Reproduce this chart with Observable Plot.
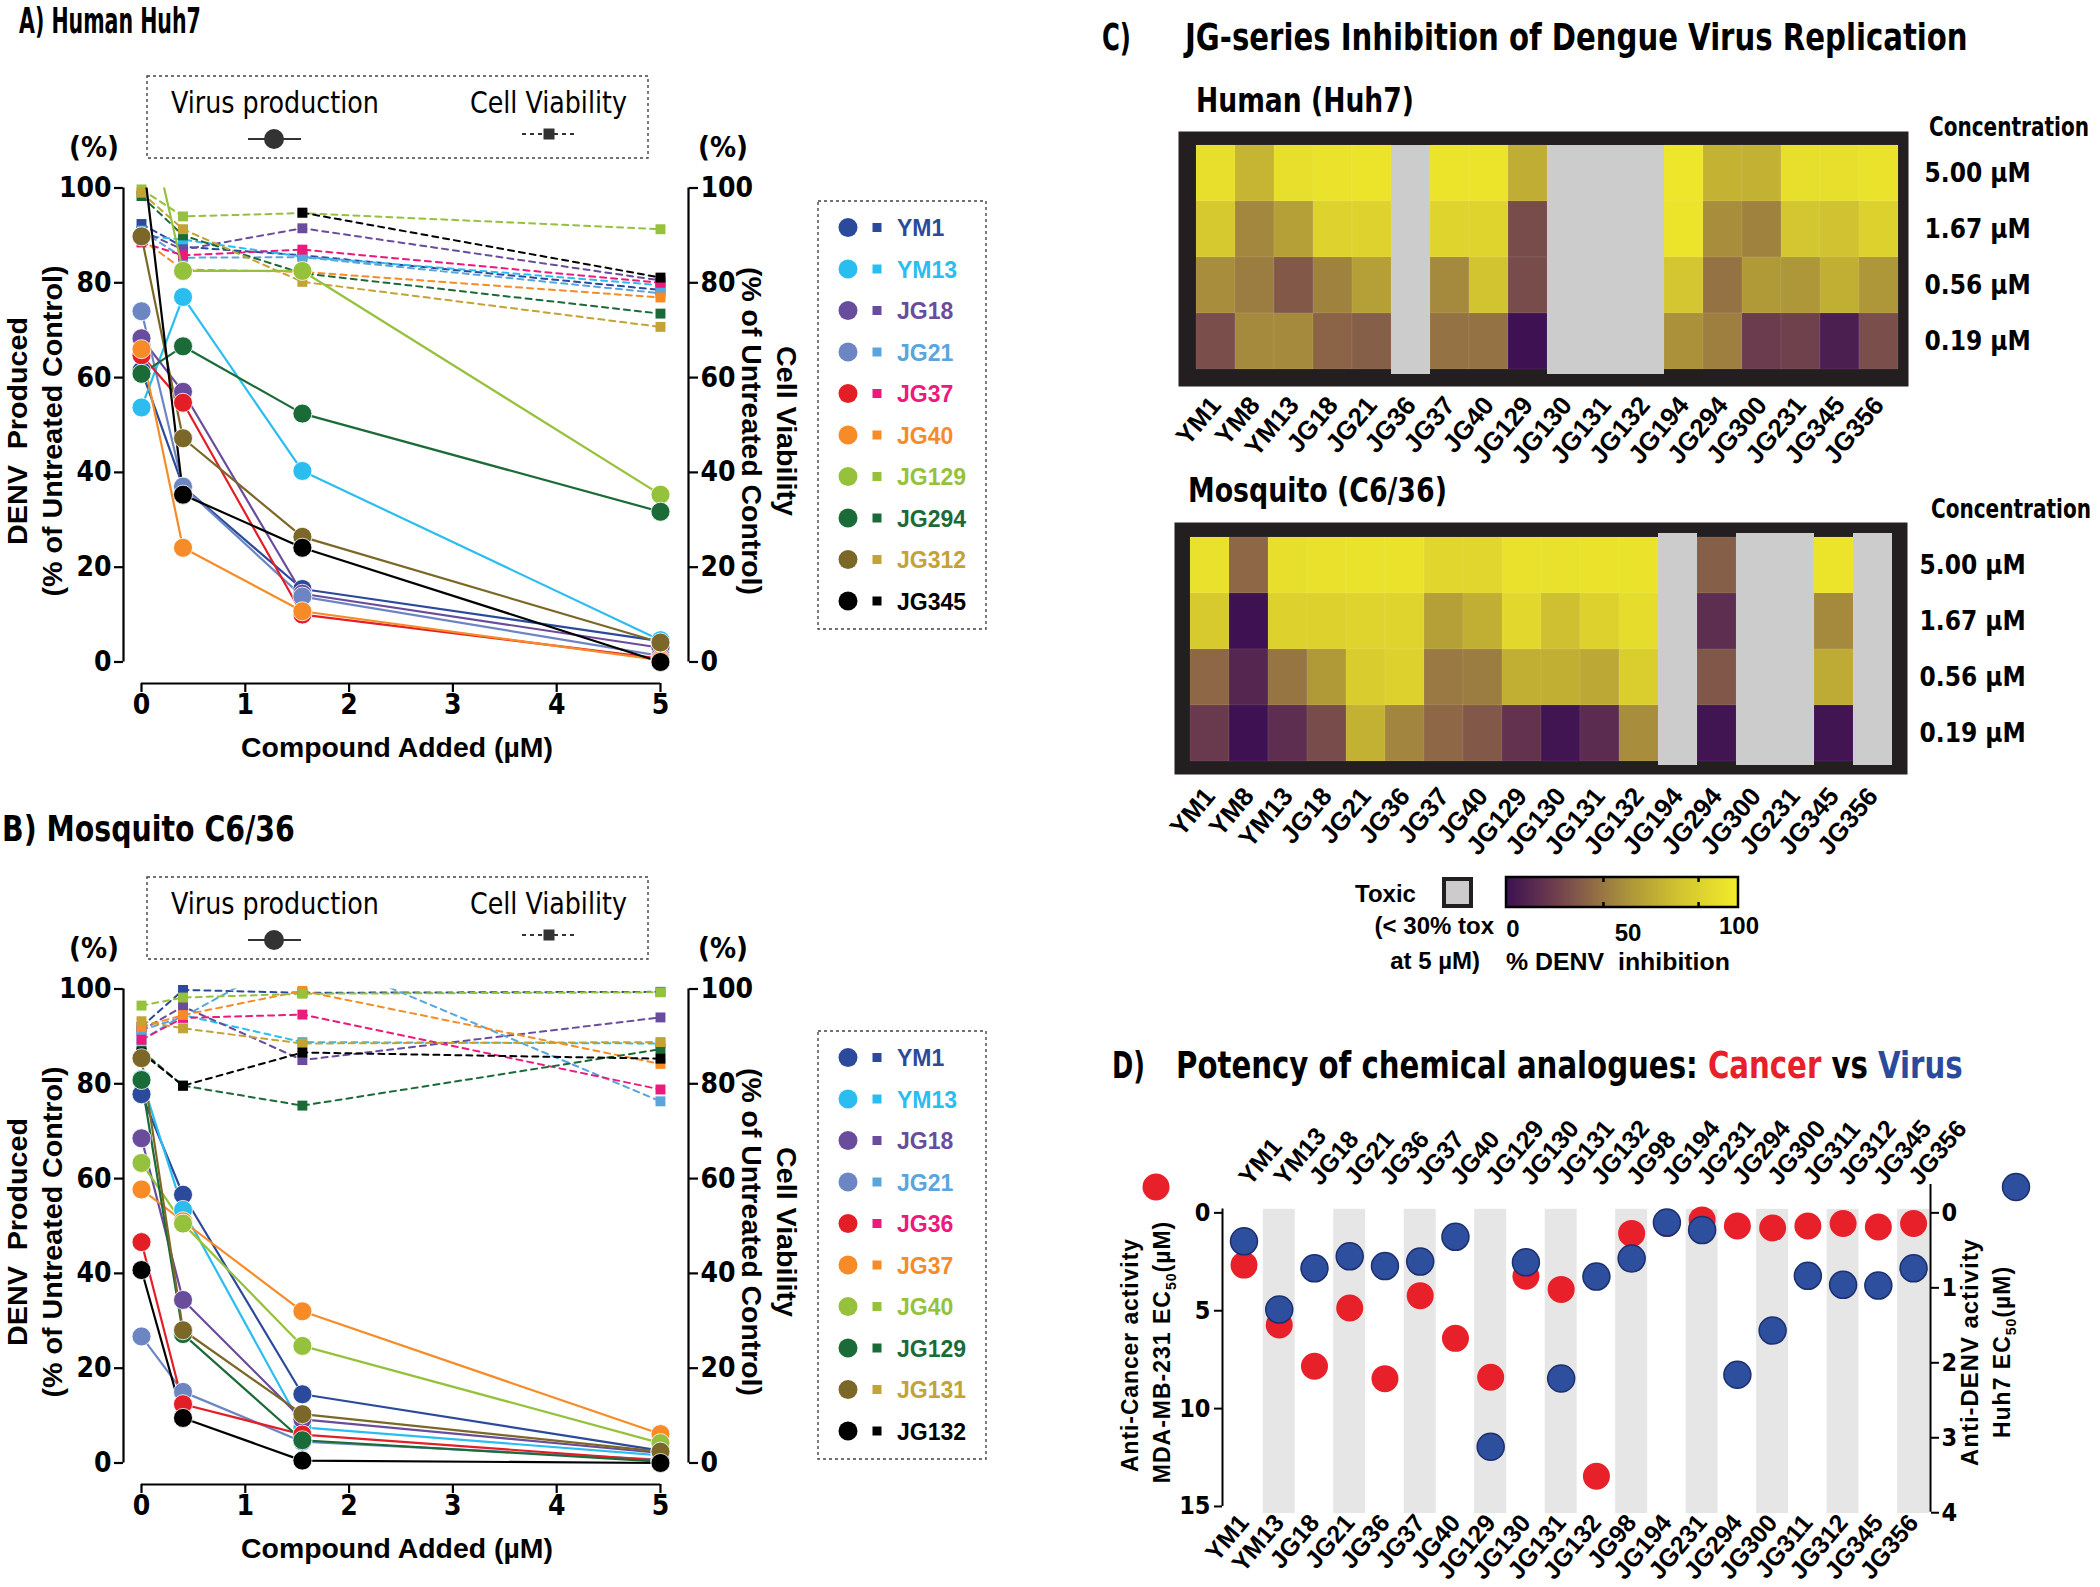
<!DOCTYPE html>
<html><head><meta charset="utf-8">
<script src="https://cdn.jsdelivr.net/npm/d3@7"></script>
<script src="https://cdn.jsdelivr.net/npm/@observablehq/plot@0.6"></script>
<style>
html,body{margin:0;padding:0;background:#fff;}
#page{position:relative;width:2100px;height:1587px;overflow:hidden;background:#fff;}
</style></head>
<body><div id="page"></div>
<script>
// ---------------- DATA ----------------
const concAB = [0, 0.4, 1.55, 5];

const compoundsA = ["YM1","YM13","JG18","JG21","JG37","JG40","JG129","JG294","JG312","JG345"];
const virusA = [
  [61.5, 37, 15.4, 4.4],
  [53.7, 77, 40.3, 4.6],
  [68.3, 57, 14.4, 3],
  [74, 37, 13.8, 1.3],
  [64.7, 54.7, 10, 0.7],
  [66, 24.1, 10.7, 0.4],
  [121, 82.5, 82.5, 35.3],
  [60.8, 66.6, 52.4, 31.7],
  [89.8, 47.2, 26.4, 4.1],
  [109, 35.3, 24.1, 0]
];
const viabilityA = [
  [92.4, 87.6, 85.8, 78.5],
  [90, 89.1, 85.5, 79.5],
  [91, 87, 91.5, 80.5],
  [91, 85.3, 85.4, 77.8],
  [88.5, 85.8, 87, 80],
  [89.2, 82.8, 82.3, 76.9],
  [99.7, 94, 94.7, 91.3],
  [98.3, 90, 82, 73.5],
  [99, 91.3, 80.2, 70.7],
  [null, null, 94.8, 81.1]
];

const compoundsB = ["YM1","YM13","JG18","JG21","JG36","JG37","JG40","JG129","JG131","JG132"];
const virusB = [
  [77.8, 56.6, 14.5, 2.6],
  [81, 53.4, 7.5, 1.6],
  [68.5, 34.4, 9.2, 2.1],
  [26.7, 15, 4.5, 0.7],
  [46.6, 12.4, 6, 0.5],
  [57.7, 51, 32, 6.1],
  [63.3, 50.5, 24.7, 4.2],
  [80.8, 27.2, 4.8, 0.3],
  [85.4, 28, 10.3, 2.4],
  [40.7, 9.5, 0.5, 0]
];
const viabilityB = [
  [92, 99.8, 99.2, 99.4],
  [89.2, 94.5, 88.8, 88.5],
  [91.3, 96.3, 85, 94],
  [91.3, 94.1, 108, 76.3],
  [89.3, 93.9, 94.6, 78.8],
  [92, 94.5, 99.6, 84.2],
  [96.5, 98.2, 99, 99.3],
  [87, 79.6, 75.4, 87.3],
  [93.2, 91.7, 88.5, 88.8],
  [86.6, 79.6, 86.6, 85.3]
];

const heatCompounds = ["YM1","YM8","YM13","JG18","JG21","JG36","JG37","JG40","JG129","JG130","JG131","JG132","JG194","JG294","JG300","JG231","JG345","JG356"];
const heatConc = ["5.00 µM","1.67 µM","0.56 µM","0.19 µM"];
const humanInhibition = [
  [92,68,92,94,95,null,95,95,64,null,null,null,96,67,66,92,92,94],
  [78,48,58,84,84,null,85,85,26,null,null,null,95,50,46,76,74,83],
  [50,44,31,46,58,null,49,75,26,null,null,null,76,40,55,54,65,54],
  [27,49,49,35,33,null,40,40,1,null,null,null,52,45,20,22,7,27]
];
const mosquitoInhibition = [
  [93,36,92,93,94,94,86,86,93,93,94,94,null,33,null,null,95,null],
  [79,1,83,83,85,85,58,65,87,73,83,90,null,14,null,null,49,null],
  [36,10,41,55,80,83,43,44,65,65,62,81,null,30,null,null,63,null],
  [19,1,14,26,66,47,36,31,16,2,13,50,null,2,null,null,2,null]
];

const potencyCompounds = ["YM1","YM13","JG18","JG21","JG36","JG37","JG40","JG129","JG130","JG131","JG132","JG98","JG194","JG231","JG294","JG300","JG311","JG312","JG345","JG356"];
const cancerEC50 = [2.67,5.73,7.84,4.86,8.47,4.23,6.41,8.40,3.24,3.91,13.46,1.05,0.54,0.36,0.67,0.77,0.67,0.54,0.72,0.54];
const virusEC50 = [0.38,1.29,0.74,0.58,0.71,0.65,0.32,3.12,0.66,2.21,0.85,0.61,0.13,0.23,2.16,1.57,0.84,0.96,0.97,0.74];

// ---------------- STYLES ----------------
const circleColorsA = ["#2b4a9c","#2cbdf0","#6a4c9c","#6c86c4","#e31e26","#f68b27","#95c13d","#1b6b39","#7b6828","#000000"];
const squareColorsA = ["#2b4a9c","#2cbdf0","#6a4c9c","#5aa5dc","#ec1a7d","#f68b27","#95c13d","#1b6b39","#c3a236","#000000"];
const circleColorsB = ["#2b4a9c","#2cbdf0","#6a4c9c","#6c86c4","#e31e26","#f68b27","#95c13d","#1b6b39","#7b6828","#000000"];
const squareColorsB = ["#2b4a9c","#2cbdf0","#6a4c9c","#5aa5dc","#ec1a7d","#f68b27","#95c13d","#1b6b39","#c3a236","#000000"];
const heatStops = [0, 20, 40, 55, 75, 100];
const heatColors = ["#3c1052","#6b3b4e","#957244","#b09a38","#d2c430","#f3ec2a"];

const NARROW = "'Liberation Sans Narrow','DejaVu Sans Condensed',sans-serif";
const SANS = "'Liberation Sans',Arial,sans-serif";

const page = document.getElementById("page");
function place(svg, left, top) {
  svg.style.position = "absolute";
  svg.style.left = left + "px";
  svg.style.top = top + "px";
  svg.style.overflow = "visible";
  page.appendChild(svg);
}

function toLong(compounds, rows, colors) {
  const out = [];
  rows.forEach((r, i) => r.forEach((v, j) => {
    if (v != null) out.push({c: compounds[i], x: concAB[j], y: v, color: colors[i]});
  }));
  return out;
}

// ---------------- PANELS A / B ----------------
const X0 = -0.1734, X1 = 5.27, Y0 = -4.54;
function lineChart(compounds, virus, viab, cCols, sCols) {
  const vir = toLong(compounds, virus, cCols);
  const via = toLong(compounds, viab, sCols);
  const axisOpts = {tickSize: 9, strokeWidth: 2.2, label: null, fontSize: 28, fontFamily: NARROW, fontWeight: "bold"};
  return Plot.plot({
    width: 830, height: 620, marginLeft: 123, marginRight: 142, marginTop: 37.5, marginBottom: 87,
    x: {domain: [X0, X1]},
    y: {domain: [Y0, 100]},
    color: {type: "identity"},
    style: {fontFamily: NARROW, fontWeight: "bold", fontSize: "28px", background: "transparent", overflow: "visible", color: "#000"},
    marks: [
      Plot.ruleX([X0], {y1: 0, y2: 100, strokeWidth: 2.2}),
      Plot.ruleX([X1], {y1: 0, y2: 100, strokeWidth: 2.2}),
      Plot.ruleY([Y0], {x1: 0, x2: 5, strokeWidth: 2.2}),
      Plot.axisY({...axisOpts, anchor: "left", ticks: [0,20,40,60,80,100], tickFormat: "d", tickPadding: 3}),
      Plot.axisY({...axisOpts, anchor: "right", ticks: [0,20,40,60,80,100], tickFormat: "d", tickPadding: 3}),
      Plot.axisX({...axisOpts, anchor: "bottom", ticks: [0,1,2,3,4,5], tickFormat: "d", tickPadding: 2}),
      Plot.line(via, {x: "x", y: "y", z: "c", stroke: "color", strokeWidth: 2, strokeDasharray: "6,5", clip: true}),
      Plot.dot(via, {x: "x", y: "y", fill: "color", symbol: "square", r: 5.6, filter: d => d.y <= 100.5}),
      Plot.line(vir, {x: "x", y: "y", z: "c", stroke: "color", strokeWidth: 2.2, clip: true}),
      Plot.dot(vir, {x: "x", y: "y", fill: "color", r: 9.5, stroke: "#ffffff", strokeWidth: 0.8, filter: d => d.y <= 100.5})
    ]
  });
}
place(lineChart(compoundsA, virusA, viabilityA, circleColorsA, squareColorsA), 0, 150);
place(lineChart(compoundsB, virusB, viabilityB, circleColorsB, squareColorsB), 0, 950.7);

// ---------------- PANEL C ----------------
function heatmap(values, mL, mR, mT, mB, ins, grayIns) {
  const cells = [];
  values.forEach((row, r) => row.forEach((v, c) => cells.push({x: heatCompounds[c], y: heatConc[r], v})));
  return Plot.plot({
    width: 950, height: 370, marginLeft: mL, marginRight: mR, marginTop: mT, marginBottom: mB,
    x: {domain: heatCompounds, padding: 0},
    y: {domain: heatConc, padding: 0},
    color: {type: "linear", domain: heatStops, range: heatColors},
    style: {fontFamily: NARROW, fontWeight: "bold", fontSize: "26px", background: "transparent", overflow: "visible", color: "#000"},
    marks: [
      Plot.frame({fill: "#231f20", stroke: null, ...ins}),
      Plot.cell(cells.filter(d => d.v == null), {x: "x", y: "y", fill: "#cccccc", ...grayIns}),
      Plot.cell(cells.filter(d => d.v != null), {x: "x", y: "y", fill: "v", stroke: "#ffffff", strokeOpacity: 0.12, strokeWidth: 0.6}),
      Plot.axisX({anchor: "bottom", tickRotate: -50, tickSize: 0, tickPadding: 30, fontFamily: SANS, fontSize: 26, fontWeight: "bold", label: null}),
      Plot.axisY({anchor: "right", tickSize: 0, tickPadding: 24, fontFamily: NARROW, fontSize: 26, fontWeight: "bold", label: null})
    ]
  });
}
place(heatmap(humanInhibition, 43, 200, 23, 120,
  {insetLeft: -15, insetRight: -8, insetTop: -12, insetBottom: -16}, {insetBottom: -5}), 1150, 120);
place(heatmap(mosquitoInhibition, 37, 205, 23, 122,
  {insetLeft: -13, insetRight: -12, insetTop: -14, insetBottom: -13}, {insetTop: -4, insetBottom: -4}), 1150, 513);

// ---------------- PANEL D ----------------
const K = 3.83; // right-axis (virus) units -> left-axis units
const idx = d3.range(potencyCompounds.length);
const dAxis = {fontFamily: NARROW, fontSize: 25, fontWeight: "bold", label: null, strokeWidth: 2};
place(Plot.plot({
  width: 1000, height: 487, marginLeft: 122, marginRight: 170, marginTop: 83, marginBottom: 73.2,
  x: {domain: [-0.61, 19.48]},
  y: {domain: [-1.5, 15.4], reverse: true},
  style: {fontFamily: NARROW, fontWeight: "bold", fontSize: "25px", background: "transparent", overflow: "visible", color: "#000"},
  marks: [
    Plot.rect(idx.filter(i => i % 2 === 1), {x1: i => i - 0.453, x2: i => i + 0.453, y1: -0.18, y2: 15.36, fill: "#e6e6e6"}),
    Plot.ruleX([-0.61], {y1: -0.2, y2: 15, strokeWidth: 2}),
    Plot.ruleX([19.48], {y1: -1.45, y2: 15.3, strokeWidth: 2}),
    Plot.axisY({...dAxis, anchor: "left", ticks: [0,5,10,15], tickSize: 8, tickPadding: 4}),
    Plot.axisY({...dAxis, anchor: "right", ticks: [0,1,2,3,4].map(v => v * K), tickFormat: v => String(Math.round(v / K)), tickSize: 8, tickPadding: 3}),
    Plot.axisX({anchor: "top", ticks: idx, tickFormat: i => potencyCompounds[i], tickRotate: -50, tickSize: 0, tickPadding: 2, fontFamily: SANS, fontSize: 25, fontWeight: "bold", label: null}),
    Plot.axisX({anchor: "bottom", ticks: idx, tickFormat: i => potencyCompounds[i], tickRotate: -50, tickSize: 0, tickPadding: 4, fontFamily: SANS, fontSize: 25, fontWeight: "bold", label: null}),
    Plot.dot(idx, {x: i => i, y: i => cancerEC50[i], r: 13.5, fill: "#e8202a"}),
    Plot.dot(idx, {x: i => i, y: i => virusEC50[i] * K, r: 13.5, fill: "#2e4e9e", stroke: "#1c2f6e", strokeWidth: 1.5})
  ]
}), 1100, 1100);

// ---------------- OVERLAY TEXT / LEGENDS ----------------
const ov = d3.select(page).append("svg")
  .attr("width", 2100).attr("height", 1587)
  .style("position", "absolute").style("left", "0px").style("top", "0px").style("overflow", "visible");

// text helper; optional len squeezes/stretches the text horizontally to a target width
function T(x, y, s, o = {}) {
  const t = ov.append("text").attr("x", x).attr("y", y).text(s)
    .attr("font-family", o.family || NARROW)
    .attr("font-size", o.size || 28)
    .attr("font-weight", o.weight || "bold")
    .attr("fill", o.fill || "#000")
    .attr("text-anchor", o.anchor || "start")
    .style("white-space", "pre");
  if (o.ls) t.attr("letter-spacing", o.ls);
  if (o.rotate) t.attr("transform", `rotate(${o.rotate},${x},${y})`);
  t._o = {x, y, ...o};
  return t;
}
function fit(t) {
  const o = t._o;
  if (!o.len) return t;
  const w = t.node().getComputedTextLength();
  const sx = w > 0 ? o.len / w : 1;
  let tr = o.rotate ? `rotate(${o.rotate},${o.x},${o.y}) ` : "";
  tr += `translate(${o.x},${o.y}) scale(${sx},1) translate(${-o.x},${-o.y})`;
  t.attr("transform", tr);
  return t;
}
function TF(x, y, s, o) { return fit(T(x, y, s, o)); }

function panelLineDecor(dy, title, titleX, titleY, titleLen, legendTop, compounds, cCols, sCols) {
  TF(titleX, titleY, title, {size: 36, len: titleLen});
  ov.append("rect").attr("x", 147).attr("y", 76 + dy).attr("width", 501).attr("height", 82)
    .attr("fill", "none").attr("stroke", "#444").attr("stroke-width", 1.4).attr("stroke-dasharray", "3,3");
  TF(171, 113 + dy, "Virus production", {size: 31, weight: "normal", len: 208});
  TF(470, 113 + dy, "Cell Viability", {size: 31, weight: "normal", len: 157});
  ov.append("line").attr("x1", 248).attr("x2", 301).attr("y1", 139 + dy).attr("y2", 139 + dy).attr("stroke", "#333").attr("stroke-width", 2);
  ov.append("circle").attr("cx", 274).attr("cy", 139 + dy).attr("r", 10).attr("fill", "#333");
  ov.append("line").attr("x1", 522).attr("x2", 576).attr("y1", 134 + dy).attr("y2", 134 + dy).attr("stroke", "#333").attr("stroke-width", 2).attr("stroke-dasharray", "4,4");
  ov.append("rect").attr("x", 543.5).attr("y", 128.5 + dy).attr("width", 11).attr("height", 11).attr("fill", "#333");
  T(94, 157 + dy, "(%)", {anchor: "middle", size: 29});
  T(723, 157 + dy, "(%)", {anchor: "middle", size: 29});
  TF(397, 757 + dy, "Compound Added (µM)", {anchor: "middle", size: 28, family: SANS, len: 312});
  TF(27, 431 + dy, "DENV  Produced", {anchor: "middle", size: 28, family: SANS, rotate: -90, len: 228});
  TF(62, 431 + dy, "(% of Untreated Control)", {anchor: "middle", size: 28, family: SANS, rotate: -90, len: 331});
  TF(742, 431 + dy, "(% of Untreated Control)", {anchor: "middle", size: 28, family: SANS, rotate: 90, len: 328});
  TF(777, 431 + dy, "Cell Viability", {anchor: "middle", size: 28, family: SANS, rotate: 90, len: 170});
  // series legend
  ov.append("rect").attr("x", 818).attr("y", legendTop).attr("width", 168).attr("height", 428)
    .attr("fill", "none").attr("stroke", "#444").attr("stroke-width", 1.4).attr("stroke-dasharray", "3,3");
  compounds.forEach((c, i) => {
    const y = legendTop + 26.5 + 41.5 * i;
    ov.append("circle").attr("cx", 848).attr("cy", y).attr("r", 9.5).attr("fill", cCols[i]);
    ov.append("rect").attr("x", 872.5).attr("y", y - 4.5).attr("width", 9).attr("height", 9).attr("fill", sCols[i]);
    T(897, y + 8.5, c, {size: 23, family: SANS, fill: sCols[i]});
  });
}
panelLineDecor(0, "A) Human Huh7", 19, 33, 182, 201, compoundsA, circleColorsA, squareColorsA);
panelLineDecor(801, "B) Mosquito C6/36", 2, 841, 293, 1031, compoundsB, circleColorsB, squareColorsB);

// Panel C text
TF(1102, 50, "C)", {size: 38, len: 29});
TF(1185, 50, "JG-series Inhibition of Dengue Virus Replication", {size: 38, len: 783});
TF(1196, 112, "Human (Huh7)", {size: 34, len: 218});
TF(1929, 136, "Concentration", {size: 27, len: 160});
TF(1188, 502, "Mosquito (C6/36)", {size: 34, len: 259});
TF(1931, 518, "Concentration", {size: 27, len: 160});
// color legend
T(1355, 902, "Toxic", {size: 24, family: SANS});
ov.append("rect").attr("x", 1444).attr("y", 879).attr("width", 27).attr("height", 27)
  .attr("fill", "#cccccc").attr("stroke", "#231f20").attr("stroke-width", 4);
const grad = ov.append("defs").append("linearGradient").attr("id", "hg");
heatStops.forEach((s, i) => grad.append("stop").attr("offset", s + "%").attr("stop-color", heatColors[i]));
ov.append("rect").attr("x", 1506).attr("y", 877).attr("width", 232).attr("height", 30)
  .attr("fill", "url(#hg)").attr("stroke", "#000").attr("stroke-width", 2.5);
[0.42, 0.83].forEach(f => {
  ov.append("line").attr("x1", 1506 + 232 * f).attr("x2", 1506 + 232 * f).attr("y1", 877).attr("y2", 882).attr("stroke", "#000").attr("stroke-width", 2.5);
  ov.append("line").attr("x1", 1506 + 232 * f).attr("x2", 1506 + 232 * f).attr("y1", 902).attr("y2", 907).attr("stroke", "#000").attr("stroke-width", 2.5);
});
T(1513, 937, "0", {anchor: "middle", size: 24, family: SANS});
T(1628, 941, "50", {anchor: "middle", size: 24, family: SANS});
T(1739, 934, "100", {anchor: "middle", size: 24, family: SANS});
T(1494, 934, "(< 30% tox", {anchor: "end", size: 24, family: SANS});
T(1480, 969, "at 5 µM)", {anchor: "end", size: 24, family: SANS});
TF(1506, 970, "% DENV\u00a0\u00a0inhibition", {size: 24, family: SANS, len: 224});

// Panel D text
TF(1112, 1078, "D)", {size: 38, len: 33});
const dt = T(1176, 1078, "Potency of chemical analogues: ", {size: 38, len: 787});
dt.append("tspan").attr("fill", "#e8202a").text("Cancer");
dt.append("tspan").text(" vs ");
dt.append("tspan").attr("fill", "#2b4a9c").text("Virus");
fit(dt);
ov.append("circle").attr("cx", 1156).attr("cy", 1187).attr("r", 13.5).attr("fill", "#e8202a");
ov.append("circle").attr("cx", 2016).attr("cy", 1187).attr("r", 13.5).attr("fill", "#2e4e9e").attr("stroke", "#1c2f6e").attr("stroke-width", 1.5);
TF(1138, 1355, "Anti-Cancer activity", {anchor: "middle", size: 23, family: SANS, rotate: -90, ls: 1, len: 234});
const l2 = T(1170, 1352, "MDA-MB-231 EC", {anchor: "middle", size: 23, family: SANS, rotate: -90, ls: 1});
l2.append("tspan").attr("font-size", 14).attr("dy", 6).text("50");
l2.append("tspan").attr("dy", -6).text("(µM)");
TF(1978, 1352, "Anti-DENV activity", {anchor: "middle", size: 23, family: SANS, rotate: -90, ls: 1, len: 228});
const r2 = T(2010, 1352, "Huh7 EC", {anchor: "middle", size: 23, family: SANS, rotate: -90, ls: 1});
r2.append("tspan").attr("font-size", 14).attr("dy", 6).text("50");
r2.append("tspan").attr("dy", -6).text("(µM)");
</script>
</body></html>
